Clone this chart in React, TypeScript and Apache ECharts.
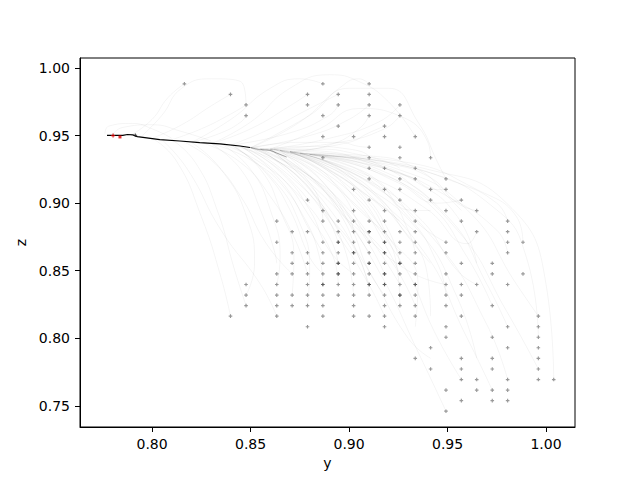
import React, { useEffect, useRef } from "react";
import * as echarts from "echarts";

// x-axis ("y") tick labels and y-axis ("z") tick labels
const yTicks = [0.8, 0.85, 0.9, 0.95, 1.0];
const zTicks = [0.75, 0.8, 0.85, 0.9, 0.95, 1.0];

// shared (observed) path
const sharedPath: [number, number][] = [
  [0.7771, 0.9502], [0.7851, 0.9502], [0.7875, 0.9508], [0.7902, 0.9505], [0.7925, 0.9492],
  [0.8039, 0.947], [0.8141, 0.946], [0.8242, 0.9448], [0.8344, 0.9438], [0.8446, 0.9423],
  [0.8497, 0.9412],
];
const fadingPath: [number, number][] = [
  [0.8497, 0.9412], [0.8547, 0.9396], [0.8598, 0.9391], [0.8632, 0.9371], [0.8683, 0.9341],
];

// final positions (rows of equal z, listing y values)
const endZ = [
  0.9883, 0.9805, 0.9727, 0.9648, 0.957, 0.9492, 0.9414, 0.9336, 0.9258, 0.918, 0.9102, 0.9023,
  0.8945, 0.8867, 0.8789, 0.8711, 0.8633, 0.8555, 0.8477, 0.8398, 0.832, 0.8242, 0.8164, 0.8086,
  0.8008, 0.793, 0.7852, 0.7773, 0.7695, 0.7617, 0.7539, 0.7461,
];
const endY: number[][] = [
  [0.8164, 0.8867, 0.9102],
  [0.8398, 0.8789, 0.8945, 0.9102],
  [0.8477, 0.8789, 0.8945, 0.9102, 0.9258],
  [0.8477, 0.8867, 0.9102, 0.9258],
  [0.8945, 0.918],
  [0.8867, 0.9023, 0.918, 0.9336],
  [0.9102, 0.9258],
  [0.8867, 0.9102, 0.9258, 0.9414],
  [0.9102, 0.918, 0.9336],
  [0.9102, 0.9258, 0.9336, 0.9492],
  [0.9023, 0.918, 0.9258, 0.9414, 0.9492],
  [0.8789, 0.9102, 0.9258, 0.9414, 0.957],
  [0.8867, 0.9023, 0.918, 0.9336, 0.9492, 0.9648],
  [0.8633, 0.8867, 0.8945, 0.9023, 0.9102, 0.918, 0.9336, 0.957, 0.9805],
  [0.8711, 0.8789, 0.8945, 0.9023, 0.9102, 0.9102, 0.918, 0.9258, 0.9336, 0.9648, 0.9805],
  [0.8633, 0.8867, 0.8945, 0.8945, 0.9023, 0.9102, 0.918, 0.918, 0.9258, 0.9336, 0.9492, 0.9805, 0.9883],
  [0.8711, 0.8789, 0.8867, 0.8945, 0.9023, 0.9023, 0.9102, 0.918, 0.918, 0.9258, 0.9336, 0.9492, 0.9805],
  [0.8711, 0.8789, 0.8867, 0.8945, 0.8945, 0.9023, 0.9102, 0.9102, 0.918, 0.9258, 0.9258, 0.9336, 0.957, 0.9727],
  [0.8633, 0.8711, 0.8789, 0.8867, 0.8945, 0.8945, 0.9023, 0.9102, 0.918, 0.918, 0.9258, 0.9336, 0.9492, 0.9727, 0.9883],
  [0.8477, 0.8633, 0.8789, 0.8867, 0.8867, 0.8945, 0.9023, 0.9102, 0.9102, 0.918, 0.918, 0.9258, 0.9336, 0.9336, 0.9492, 0.957, 0.9648, 0.9805],
  [0.8477, 0.8633, 0.8711, 0.8789, 0.8867, 0.8945, 0.9023, 0.9102, 0.918, 0.9258, 0.9258, 0.9336, 0.9492, 0.957],
  [0.8477, 0.8633, 0.8711, 0.8789, 0.8867, 0.9023, 0.918, 0.9258, 0.9336, 0.9492, 0.9727],
  [0.8398, 0.8633, 0.8867, 0.9023, 0.9102, 0.918, 0.9336, 0.957, 0.9961],
  [0.8789, 0.918, 0.9492, 0.9805, 0.9961],
  [0.9492, 0.9727, 0.9961],
  [0.9414, 0.9805, 0.9961],
  [0.9336, 0.957, 0.9727, 0.9961],
  [0.9414, 0.957, 0.9727, 0.9961],
  [0.957, 0.9648, 0.9805, 0.9961, 1.0039],
  [0.9492, 0.9648, 0.9727, 0.9805],
  [0.957, 0.9727, 0.9805],
  [0.9492],
];

// observed start markers
const startRed: [number, number][] = [[0.7802, 0.95]];
const startRedSquare: [number, number][] = [[0.7837, 0.949]];
const startBlack: [number, number][] = [[0.7915, 0.9502]];

// sampled trajectories (estimated from the faint lines)
const trajectories: [number, number][][] = [
  [[0.776, 0.951], [0.778, 0.957], [0.79, 0.959], [0.80, 0.955], [0.81, 0.948]],
  [[0.78, 0.951], [0.785, 0.956], [0.80, 0.958], [0.815, 0.953], [0.83, 0.946]],
  [[0.79, 0.951], [0.80, 0.962], [0.808, 0.978], [0.8164, 0.9883]],
  [[0.795, 0.95], [0.805, 0.965], [0.815, 0.985], [0.83, 0.992], [0.845, 0.99], [0.8477, 0.9727]],
  [[0.80, 0.948], [0.815, 0.958], [0.83, 0.972], [0.8398, 0.9805]],
  [[0.81, 0.947], [0.825, 0.955], [0.84, 0.966], [0.8477, 0.9727]],
  [[0.82, 0.945], [0.835, 0.952], [0.845, 0.96], [0.8477, 0.9648]],
  [[0.83, 0.944], [0.85, 0.955], [0.87, 0.972], [0.8789, 0.9805]],
  [[0.82, 0.945], [0.84, 0.962], [0.86, 0.985], [0.875, 0.992], [0.8867, 0.9883]],
  [[0.84, 0.943], [0.86, 0.955], [0.88, 0.97], [0.8945, 0.9805]],
  [[0.85, 0.941], [0.875, 0.96], [0.895, 0.985], [0.905, 0.992], [0.9102, 0.9883]],
  [[0.85, 0.941], [0.88, 0.95], [0.90, 0.962], [0.9102, 0.9727]],
  [[0.86, 0.94], [0.89, 0.948], [0.915, 0.96], [0.9258, 0.9727]],
  [[0.86, 0.94], [0.895, 0.945], [0.918, 0.955], [0.9258, 0.9648]],
  [[0.84, 0.943], [0.87, 0.952], [0.89, 0.965], [0.8945, 0.9727]],
  [[0.87, 0.938], [0.89, 0.943], [0.905, 0.955], [0.9102, 0.9648]],
  [[0.87, 0.938], [0.90, 0.945], [0.91, 0.952], [0.918, 0.957]],
  [[0.83, 0.944], [0.85, 0.96], [0.87, 0.985], [0.89, 0.995], [0.905, 0.99], [0.92, 0.975], [0.9336, 0.9492]],
  [[0.85, 0.941], [0.88, 0.965], [0.90, 0.985], [0.92, 0.985], [0.935, 0.96], [0.945, 0.93], [0.9492, 0.918]],
  [[0.86, 0.94], [0.885, 0.955], [0.905, 0.97], [0.925, 0.965], [0.94, 0.945], [0.9414, 0.9336]],
  [[0.85, 0.941], [0.87, 0.925], [0.885, 0.90], [0.8945, 0.8711]],
  [[0.855, 0.94], [0.875, 0.925], [0.895, 0.90], [0.91, 0.87], [0.918, 0.8477]],
  [[0.86, 0.94], [0.885, 0.93], [0.905, 0.91], [0.92, 0.88], [0.9258, 0.8555]],
  [[0.845, 0.942], [0.86, 0.925], [0.875, 0.895], [0.885, 0.86], [0.8867, 0.8398]],
  [[0.84, 0.943], [0.855, 0.925], [0.865, 0.895], [0.872, 0.86], [0.8711, 0.832]],
  [[0.85, 0.941], [0.865, 0.93], [0.88, 0.91], [0.895, 0.88], [0.9023, 0.8633]],
  [[0.86, 0.94], [0.89, 0.93], [0.91, 0.91], [0.925, 0.89], [0.9336, 0.8789]],
  [[0.865, 0.939], [0.895, 0.93], [0.915, 0.915], [0.93, 0.895], [0.9414, 0.8945]],
  [[0.87, 0.938], [0.90, 0.93], [0.925, 0.915], [0.945, 0.90], [0.957, 0.9023]],
  [[0.855, 0.94], [0.88, 0.92], [0.90, 0.895], [0.915, 0.865], [0.9258, 0.8398]],
  [[0.85, 0.941], [0.87, 0.92], [0.89, 0.89], [0.905, 0.86], [0.9102, 0.832]],
  [[0.86, 0.94], [0.88, 0.92], [0.90, 0.89], [0.92, 0.86], [0.9336, 0.8242]],
  [[0.845, 0.942], [0.865, 0.92], [0.88, 0.89], [0.892, 0.86], [0.8945, 0.8398]],
  [[0.84, 0.943], [0.86, 0.92], [0.875, 0.885], [0.88, 0.85], [0.8789, 0.8242]],
  [[0.835, 0.944], [0.85, 0.925], [0.86, 0.895], [0.865, 0.86], [0.8633, 0.8398]],
  [[0.83, 0.944], [0.845, 0.925], [0.855, 0.895], [0.862, 0.865], [0.8633, 0.8555]],
  [[0.82, 0.945], [0.835, 0.925], [0.848, 0.89], [0.852, 0.855], [0.8477, 0.832]],
  [[0.81, 0.947], [0.822, 0.93], [0.833, 0.895], [0.842, 0.85], [0.8477, 0.8242]],
  [[0.80, 0.948], [0.812, 0.932], [0.825, 0.89], [0.835, 0.845], [0.8398, 0.8164]],
  [[0.805, 0.947], [0.818, 0.925], [0.835, 0.88], [0.855, 0.84], [0.8633, 0.8164]],
  [[0.865, 0.939], [0.89, 0.925], [0.91, 0.90], [0.92, 0.875], [0.9258, 0.8633]],
  [[0.87, 0.938], [0.90, 0.925], [0.92, 0.905], [0.93, 0.88], [0.9336, 0.8633]],
  [[0.86, 0.94], [0.88, 0.93], [0.895, 0.91], [0.905, 0.885], [0.9102, 0.8711]],
  [[0.855, 0.94], [0.875, 0.93], [0.89, 0.91], [0.90, 0.89], [0.9023, 0.8789]],
  [[0.85, 0.941], [0.868, 0.93], [0.88, 0.915], [0.886, 0.895], [0.8867, 0.8867]],
  [[0.875, 0.937], [0.905, 0.93], [0.93, 0.92], [0.945, 0.91], [0.9492, 0.9102]],
  [[0.845, 0.942], [0.86, 0.93], [0.875, 0.91], [0.88, 0.9], [0.8789, 0.9023]],
  [[0.87, 0.938], [0.91, 0.925], [0.94, 0.90], [0.96, 0.86], [0.9727, 0.8242]],
  [[0.87, 0.938], [0.905, 0.92], [0.935, 0.89], [0.955, 0.85], [0.9648, 0.8398]],
  [[0.875, 0.937], [0.915, 0.925], [0.95, 0.89], [0.97, 0.84], [0.9805, 0.8086]],
  [[0.88, 0.936], [0.925, 0.925], [0.96, 0.895], [0.985, 0.84], [0.9961, 0.8164]],
  [[0.88, 0.936], [0.92, 0.92], [0.955, 0.88], [0.98, 0.82], [0.9961, 0.7773]],
  [[0.875, 0.937], [0.91, 0.915], [0.945, 0.87], [0.97, 0.81], [0.9805, 0.7695]],
  [[0.87, 0.938], [0.90, 0.915], [0.935, 0.87], [0.96, 0.80], [0.9727, 0.7617]],
  [[0.865, 0.939], [0.895, 0.91], [0.925, 0.86], [0.945, 0.80], [0.957, 0.7695]],
  [[0.865, 0.939], [0.89, 0.905], [0.915, 0.85], [0.935, 0.79], [0.9492, 0.7461]],
  [[0.86, 0.94], [0.885, 0.905], [0.91, 0.85], [0.93, 0.80], [0.9414, 0.7852]],
  [[0.885, 0.935], [0.935, 0.925], [0.975, 0.895], [0.99, 0.86], [0.9961, 0.8008]],
  [[0.88, 0.936], [0.93, 0.93], [0.965, 0.91], [0.985, 0.89], [0.9883, 0.8711]],
  [[0.88, 0.936], [0.92, 0.925], [0.95, 0.905], [0.975, 0.88], [0.9805, 0.8633]],
  [[0.875, 0.937], [0.91, 0.92], [0.94, 0.895], [0.96, 0.87], [0.9648, 0.8789]],
  [[0.885, 0.935], [0.94, 0.925], [0.98, 0.90], [1.0, 0.84], [1.0039, 0.7695]],
  [[0.87, 0.938], [0.90, 0.92], [0.925, 0.885], [0.94, 0.845], [0.9414, 0.8164]],
  [[0.865, 0.939], [0.895, 0.915], [0.92, 0.875], [0.935, 0.84], [0.9336, 0.8086]],
  [[0.87, 0.938], [0.905, 0.915], [0.935, 0.88], [0.955, 0.83], [0.9648, 0.7852]],
  [[0.88, 0.936], [0.92, 0.93], [0.955, 0.915], [0.975, 0.9], [0.9805, 0.8867]],
  [[0.875, 0.937], [0.91, 0.935], [0.935, 0.925], [0.95, 0.905], [0.957, 0.8945]],
  [[0.86, 0.94], [0.88, 0.915], [0.905, 0.88], [0.93, 0.85], [0.9492, 0.8398]],
  [[0.855, 0.94], [0.875, 0.915], [0.895, 0.875], [0.91, 0.84], [0.918, 0.8164]],
  [[0.835, 0.944], [0.855, 0.93], [0.875, 0.905], [0.89, 0.875], [0.8945, 0.8555]],
  [[0.84, 0.943], [0.862, 0.932], [0.885, 0.912], [0.9, 0.885], [0.9102, 0.8633]],
  [[0.83, 0.944], [0.85, 0.932], [0.868, 0.91], [0.88, 0.88], [0.8867, 0.8633]],
  [[0.825, 0.945], [0.845, 0.93], [0.86, 0.905], [0.872, 0.875], [0.8789, 0.8477]],
  [[0.815, 0.946], [0.83, 0.932], [0.845, 0.905], [0.858, 0.87], [0.8711, 0.8477]],
  [[0.845, 0.942], [0.87, 0.935], [0.89, 0.918], [0.905, 0.895], [0.918, 0.8789]],
  [[0.855, 0.94], [0.88, 0.935], [0.9, 0.92], [0.915, 0.9], [0.9258, 0.8867]],
  [[0.85, 0.941], [0.875, 0.935], [0.895, 0.92], [0.91, 0.905], [0.918, 0.8945]],
  [[0.862, 0.94], [0.885, 0.928], [0.905, 0.9], [0.918, 0.87], [0.9258, 0.8477]],
  [[0.858, 0.94], [0.878, 0.922], [0.895, 0.893], [0.905, 0.86], [0.9102, 0.8398]],
  [[0.848, 0.941], [0.866, 0.922], [0.88, 0.895], [0.89, 0.865], [0.9023, 0.8477]],
  [[0.842, 0.942], [0.858, 0.922], [0.87, 0.895], [0.88, 0.86], [0.8867, 0.8477]],
  [[0.852, 0.941], [0.872, 0.922], [0.888, 0.895], [0.898, 0.865], [0.9023, 0.832]],
  [[0.868, 0.938], [0.895, 0.925], [0.915, 0.905], [0.93, 0.875], [0.9414, 0.8555]],
  [[0.872, 0.938], [0.9, 0.928], [0.92, 0.91], [0.935, 0.885], [0.9492, 0.8711]],
  [[0.878, 0.937], [0.91, 0.93], [0.935, 0.915], [0.955, 0.89], [0.9648, 0.8555]],
  [[0.882, 0.936], [0.915, 0.93], [0.94, 0.92], [0.955, 0.9], [0.9648, 0.8945]],
  [[0.865, 0.939], [0.9, 0.935], [0.92, 0.925], [0.935, 0.91], [0.9414, 0.9023]],
  [[0.862, 0.94], [0.89, 0.938], [0.91, 0.93], [0.925, 0.922], [0.9336, 0.918]],
  [[0.858, 0.94], [0.885, 0.94], [0.905, 0.936], [0.92, 0.93], [0.9258, 0.9258]],
  [[0.855, 0.94], [0.88, 0.942], [0.9, 0.94], [0.91, 0.935], [0.9102, 0.9336]],
  [[0.85, 0.941], [0.875, 0.945], [0.895, 0.945], [0.905, 0.942], [0.9102, 0.9414]],
  [[0.87, 0.938], [0.895, 0.918], [0.915, 0.885], [0.925, 0.845], [0.9258, 0.8242]],
  [[0.875, 0.937], [0.905, 0.92], [0.93, 0.89], [0.945, 0.855], [0.9492, 0.832]],
  [[0.862, 0.94], [0.885, 0.918], [0.9, 0.885], [0.91, 0.85], [0.918, 0.832]],
];

const plusPath = "path://M3.4,0h3.2v3.4h3.4v3.2h-3.4v3.4h-3.2v-3.4h-3.4v-3.2h3.4z";

export default function App() {
  const ref = useRef<HTMLDivElement>(null);
  useEffect(() => {
    if (!ref.current) return;
    const chart = echarts.init(ref.current, undefined, { renderer: "svg" });
    const endPoints: [number, number][] = [];
    endZ.forEach((z, i) => endY[i].forEach((y) => endPoints.push([y, z])));
    const font = "DejaVu Sans";
    const series: any[] = trajectories.map((t) => ({
      type: "line",
      data: t,
      smooth: 0.5,
      showSymbol: false,
      silent: true,
      lineStyle: { color: "rgba(0,0,0,0.065)", width: 0.7 },
      z: 1,
    }));
    series.push({
      type: "line",
      data: fadingPath,
      smooth: 0.3,
      showSymbol: false,
      silent: true,
      lineStyle: { color: "rgba(0,0,0,0.35)", width: 1 },
      z: 2,
    });
    series.push({
      type: "line",
      data: sharedPath,
      showSymbol: false,
      silent: true,
      lineStyle: { color: "#000", width: 1.2 },
      z: 3,
    });
    series.push({
      type: "scatter",
      data: endPoints,
      symbol: plusPath,
      symbolSize: 3.6,
      itemStyle: { color: "rgba(0,0,0,0.5)" },
      silent: true,
      z: 4,
    });
    series.push({
      type: "scatter",
      data: startRed,
      symbol: plusPath,
      symbolSize: 4,
      itemStyle: { color: "#e00000" },
      silent: true,
      z: 5,
    });
    series.push({
      type: "scatter",
      data: startRedSquare,
      symbol: "rect",
      symbolSize: 3,
      itemStyle: { color: "#e00000" },
      silent: true,
      z: 5,
    });
    series.push({
      type: "scatter",
      data: startBlack,
      symbol: plusPath,
      symbolSize: 3.5,
      itemStyle: { color: "#222" },
      silent: true,
      z: 5,
    });
    chart.setOption({
      animation: false,
      backgroundColor: "#fff",
      grid: {
        left: 80,
        top: 58,
        width: 495,
        height: 369,
        show: true,
        borderColor: "#000",
        borderWidth: 1,
        backgroundColor: "transparent",
        containLabel: false,
      },
      xAxis: {
        type: "value",
        min: 0.7634,
        max: 1.0147,
        name: "y",
        nameLocation: "middle",
        nameGap: 25,
        nameTextStyle: { fontFamily: font, fontSize: 14, color: "#000" },
        axisLine: { show: true, onZero: false, lineStyle: { color: "#000", width: 1 } },
        axisTick: { show: true, length: 5, customValues: yTicks, lineStyle: { color: "#000" } },
        axisLabel: {
          customValues: yTicks,
          margin: 10,
          fontFamily: font,
          fontSize: 14,
          color: "#000",
          formatter: (v: number) => v.toFixed(2),
        },
        splitLine: { show: false },
      },
      yAxis: {
        type: "value",
        min: 0.7344,
        max: 1.0074,
        name: "z",
        nameLocation: "middle",
        nameGap: 42,
        nameRotate: 90,
        nameTextStyle: { fontFamily: font, fontSize: 14, color: "#000" },
        axisLine: { show: true, onZero: false, lineStyle: { color: "#000", width: 1 } },
        axisTick: { show: true, length: 5, customValues: zTicks, lineStyle: { color: "#000" } },
        axisLabel: {
          customValues: zTicks,
          margin: 10,
          fontFamily: font,
          fontSize: 14,
          color: "#000",
          formatter: (v: number) => v.toFixed(2),
        },
        splitLine: { show: false },
      },
      series,
    });
    return () => chart.dispose();
  }, []);
  return (
    <div
      ref={ref}
      style={{ position: "absolute", left: 0, top: 0, width: 640, height: 480 }}
    />
  );
}
